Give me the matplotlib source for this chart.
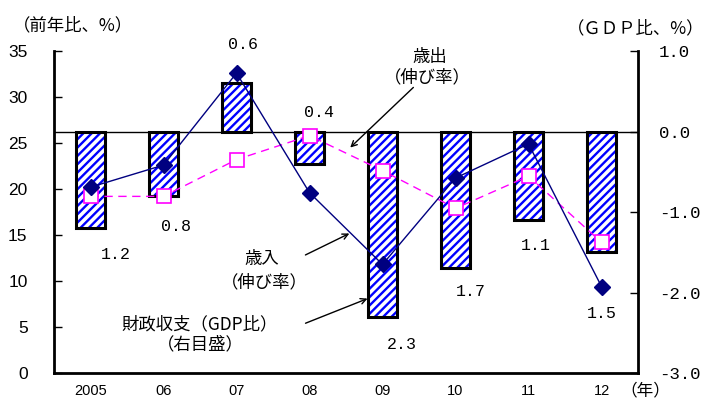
import matplotlib
matplotlib.use("Agg")
import matplotlib.pyplot as plt
import numpy as np

plt.rcParams['font.family'] = ['Liberation Sans', 'Noto Sans CJK JP', 'DejaVu Sans']
plt.rcParams['hatch.linewidth'] = 1.7

# Data
years = ["2005", "06", "07", "08", "09", "10", "11", "12"]
revenue_growth = [20.2, 22.6, 32.6, 19.6, 11.8, 21.2, 24.9, 9.4]      # 歳入 (伸び率), %
spending_growth = [19.2, 19.2, 23.2, 25.8, 22.0, 17.9, 21.4, 14.2]    # 歳出 (伸び率), %
fiscal_balance = [-1.2, -0.8, 0.6, -0.4, -2.3, -1.7, -1.1, -1.5]      # 財政収支 (GDP比), %

# Label offsets (points) relative to each bar end
label_dx = [18, 9, 5, 7, 14, 11, 5, 0]
label_dy = [-19, -22, 28, 37, -20, -17, -18, -44]

JP = ['Noto Sans CJK JP', 'DejaVu Sans']
MONO = ['Liberation Mono', 'DejaVu Sans Mono']

fig = plt.figure(figsize=(7.05, 4.03), dpi=100)
ax = fig.add_axes([0.0766, 0.0744, 0.8284, 0.799])
ax2 = ax.twinx()
ax.set_zorder(ax2.get_zorder() + 1)
ax.patch.set_visible(False)

x = np.arange(len(years))

# Fiscal balance bars on the right axis
ax2.bar(x, fiscal_balance, width=0.4, facecolor='white', edgecolor='#0000FF',
        hatch='////', linewidth=0, zorder=2)
ax2.bar(x, fiscal_balance, width=0.4, fill=False, edgecolor='black',
        linewidth=2.2, zorder=3)
ax2.axhline(0, color='black', linewidth=1.0, zorder=1)
ax2.set_ylim(-3.0, 1.0)
ax2.set_yticks([-3, -2, -1, 0, 1])
ax2.set_yticklabels([f"{v:.1f}" for v in [-3, -2, -1, 0, 1]], fontfamily=MONO)

for xi, v, dx, dy in zip(x, fiscal_balance, label_dx, label_dy):
    ax2.annotate(f"{abs(v):.1f}", xy=(xi, v), xytext=(dx, dy),
                 textcoords='offset points', ha='center', va='center',
                 fontsize=12, fontfamily=MONO)

# Growth lines on the left axis
ax.plot(x, revenue_growth, color='#000080', linewidth=1.0, marker='D',
        markersize=8, markerfacecolor='#000080', markeredgecolor='#000080', zorder=5)
ax.plot(x, spending_growth, color='#FF00FF', linewidth=1.0, linestyle=(0, (6, 4)),
        marker='s', markersize=9.5, markerfacecolor='white',
        markeredgecolor='#FF00FF', markeredgewidth=1.2, zorder=4)

ax.set_xlim(-0.5, 7.5)
ax.set_ylim(0, 35)
ax.set_yticks(range(0, 36, 5))
ax.set_xticks(x)
ax.set_xticklabels(years, fontsize=10.5)

for a in (ax, ax2):
    a.spines['top'].set_visible(False)
    for s in ('left', 'right', 'bottom'):
        a.spines[s].set_linewidth(2)
ax.spines['right'].set_visible(False)
ax2.spines['left'].set_visible(False)
ax2.spines['bottom'].set_visible(False)

ax.tick_params(axis='y', direction='in', length=6, width=1, labelsize=12.5, pad=19)
ax.tick_params(axis='x', length=0, pad=8)
ax2.tick_params(axis='y', direction='in', length=6, width=1, labelsize=12.5, pad=15)

# Axis captions
fig.text(0.018, 0.938, "（前年比、%）", fontsize=12.5, family=JP, va='center', ha='left')
fig.text(0.999, 0.93, "（ＧＤＰ比、%）", fontsize=12.5, family=JP, va='center', ha='right')
fig.text(0.880, 0.03, "（年）", fontsize=12, family=JP, va='center', ha='left')

# Series annotations
ax.text(4.65, 34.4, "歳出", fontsize=12.5, family=JP, ha='center', va='center')
ax.text(4.62, 32.1, "（伸び率）", fontsize=12.5, family=JP, ha='center', va='center')
ax.annotate("", xy=(3.53, 24.3), xytext=(4.45, 31.25),
            arrowprops=dict(arrowstyle='->', color='black', lw=1.0))

ax.text(2.35, 12.4, "歳入", fontsize=12.5, family=JP, ha='center', va='center')
ax.text(2.38, 9.9, "（伸び率）", fontsize=12.5, family=JP, ha='center', va='center')
ax.annotate("", xy=(3.58, 15.3), xytext=(2.91, 12.7),
            arrowprops=dict(arrowstyle='->', color='black', lw=1.0))

ax.text(1.5, 5.3, "財政収支（GDP比）", fontsize=12.5, family=JP, ha='center', va='center')
ax.text(1.5, 3.1, "（右目盛）", fontsize=12.5, family=JP, ha='center', va='center')
ax.annotate("", xy=(3.83, 8.2), xytext=(2.91, 5.3),
            arrowprops=dict(arrowstyle='->', color='black', lw=1.0))

fig.savefig("out.png", dpi=100)
